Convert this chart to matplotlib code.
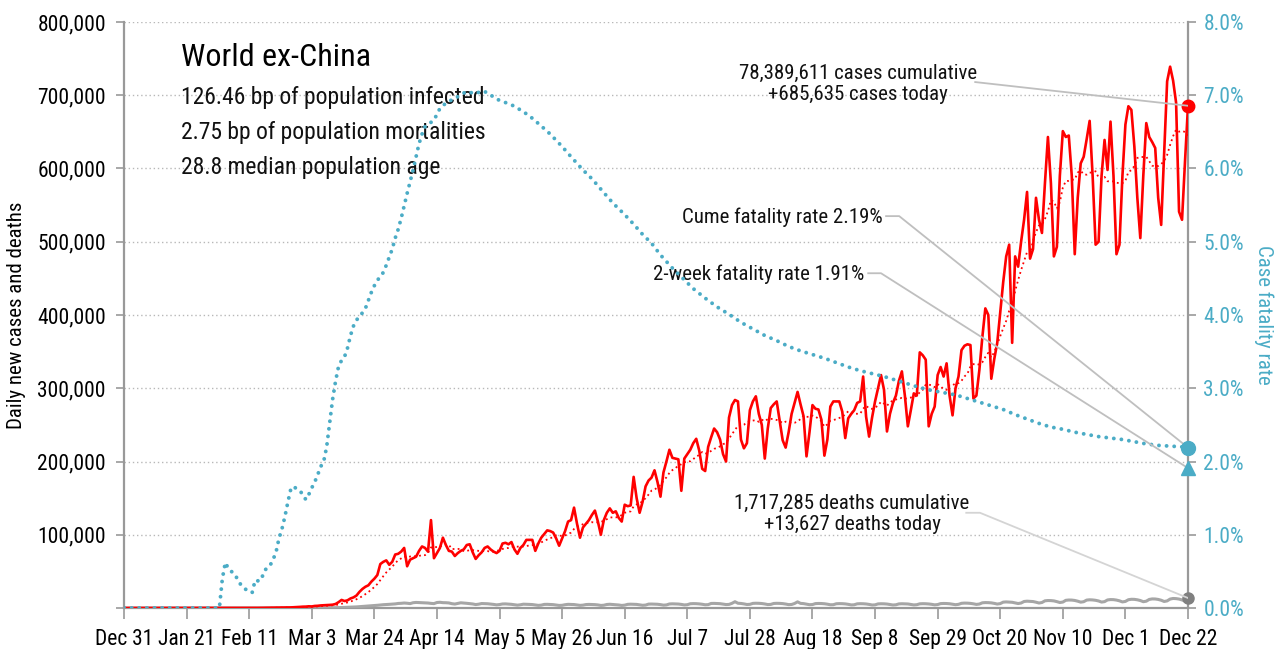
import matplotlib
matplotlib.use("Agg")
import matplotlib.pyplot as plt  # noqa: E402
import numpy as np  # noqa: E402
import pandas as pd  # noqa: E402
from matplotlib import font_manager  # noqa: E402
from matplotlib.ticker import FuncFormatter  # noqa: E402

_names = {f.name for f in font_manager.fontManager.ttflist}
FONT = next((n for n in ("Liberation Sans Narrow", "Roboto Condensed", "DejaVu Sans")
             if n in _names), "DejaVu Sans")
plt.rcParams["font.family"] = FONT

_RED, _BLUE, _GRAY, _AX = "#ff0000", "#4bacc6", "#a6a6a6", "#999999"

# ---- data: day 0 = Dec 31 2019, daily up to Dec 22 2020 (day 357) ----
cases = [
    0, 0, 0, 0, 0, 0, 0,
    0, 0, 0, 0, 0, 0, 0,
    0, 0, 0, 1, 1, 2, 4,
    6, 8, 10, 15, 20, 25, 30,
    35, 40, 45, 50, 50, 55, 60,
    60, 70, 75, 80, 85, 90, 95,
    100, 110, 120, 130, 180, 250, 300,
    350, 400, 500, 550, 600, 650, 700,
    800, 1000, 1200, 1500, 1800, 1900, 2300,
    2100, 2800, 3000, 3500, 3700, 4000, 4200,
    4500, 5500, 8000, 11000, 9500, 10500, 13000,
    14500, 17000, 22000, 26000, 29000, 31000, 36000,
    40000, 45000, 60000, 63000, 65000, 59000, 63000,
    73000, 74000, 77000, 82000, 57000, 66000, 68000,
    70000, 78000, 84000, 82000, 77000, 120000, 68000,
    75000, 82000, 96000, 86000, 78000, 77000, 71000,
    75000, 78000, 80000, 86000, 87000, 76000, 67000,
    72000, 76000, 82000, 84000, 80000, 77000, 75000,
    78000, 88000, 89000, 87000, 90000, 80000, 74000,
    82000, 86000, 93000, 93000, 93000, 78000, 88000,
    96000, 101000, 106000, 105000, 103000, 95000, 85000,
    95000, 105000, 118000, 120000, 137000, 115000, 96000,
    110000, 115000, 120000, 127000, 133000, 118000, 100000,
    120000, 130000, 136000, 130000, 132000, 123000, 118000,
    141000, 139000, 140000, 179000, 150000, 130000, 145000,
    166000, 174000, 178000, 188000, 172000, 152000, 185000,
    200000, 216000, 205000, 204000, 203000, 160000, 204000,
    210000, 216000, 225000, 231000, 215000, 190000, 187000,
    220000, 233000, 245000, 240000, 230000, 210000, 200000,
    260000, 277000, 284000, 282000, 230000, 218000, 225000,
    270000, 282000, 289000, 265000, 250000, 204000, 245000,
    273000, 278000, 282000, 255000, 229000, 219000, 240000,
    265000, 280000, 295000, 278000, 262000, 207000, 240000,
    277000, 272000, 271000, 257000, 208000, 230000, 275000,
    282000, 282000, 282000, 268000, 232000, 259000, 265000,
    270000, 280000, 282000, 316000, 261000, 234000, 260000,
    282000, 300000, 318000, 298000, 241000, 265000, 280000,
    290000, 310000, 323000, 290000, 248000, 270000, 293000,
    290000, 349000, 345000, 339000, 248000, 265000, 275000,
    318000, 329000, 316000, 334000, 290000, 263000, 300000,
    316000, 352000, 358000, 360000, 359000, 286000, 290000,
    325000, 370000, 409000, 400000, 313000, 340000, 362000,
    404000, 445000, 480000, 496000, 362000, 480000, 466000,
    500000, 530000, 568000, 477000, 490000, 560000, 530000,
    512000, 580000, 643000, 580000, 480000, 493000, 590000,
    651000, 643000, 645000, 590000, 483000, 560000, 607000,
    616000, 640000, 665000, 590000, 496000, 500000, 590000,
    639000, 598000, 664000, 590000, 483000, 496000, 590000,
    660000, 685000, 680000, 630000, 560000, 505000, 590000,
    662000, 643000, 636000, 628000, 560000, 523000, 620000,
    719000, 739000, 720000, 690000, 541000, 530000, 610000,
    685635,
]

deaths = [
    0, 0, 0, 0, 0, 0, 0,
    0, 0, 0, 0, 0, 0, 0,
    0, 0, 0, 0, 0, 0, 0,
    0, 0, 0, 0, 0, 0, 0,
    0, 0, 0, 0, 1, 0, 0,
    0, 0, 0, 0, 0, 0, 0,
    0, 0, 1, 1, 2, 3, 4,
    6, 8, 12, 10, 15, 18, 22,
    30, 35, 40, 45, 50, 55, 70,
    80, 100, 120, 160, 200, 240, 300,
    350, 420, 500, 650, 800, 900, 1100,
    1300, 1500, 1800, 2000, 2300, 2600, 3000,
    3300, 3700, 4100, 4500, 4700, 5000, 5300,
    5600, 6200, 6400, 6800, 6500, 6000, 7200,
    7600, 7400, 7300, 7000, 6800, 6300, 6000,
    7500, 7800, 7300, 7200, 6900, 5900, 5400,
    6200, 7100, 6800, 6400, 6000, 5500, 4700,
    5200, 6100, 6000, 5800, 5400, 4900, 4300,
    4700, 5500, 5600, 5300, 5000, 4400, 3900,
    4400, 5200, 5100, 4900, 4700, 4200, 3600,
    3900, 4900, 5000, 4800, 4600, 4100, 3500,
    3700, 4500, 5000, 4900, 4700, 4200, 3600,
    3900, 4700, 4900, 4800, 4600, 4200, 3500,
    3800, 4800, 5100, 4800, 4600, 4100, 3500,
    3900, 5000, 5200, 5100, 4900, 4300, 3700,
    4000, 5300, 5400, 5300, 5100, 4600, 3900,
    4200, 5500, 5700, 5600, 5400, 4900, 4200,
    4500, 5800, 6000, 5900, 5600, 5100, 4400,
    4600, 6200, 6300, 6100, 5900, 5300, 4700,
    4900, 6400, 8600, 6500, 6200, 5600, 4800,
    5000, 6300, 6500, 6400, 6100, 5500, 4700,
    4900, 6200, 6400, 6300, 6000, 5400, 4600,
    4800, 6200, 8400, 6300, 6000, 5300, 4500,
    4700, 6000, 6200, 6100, 5800, 5200, 4400,
    4500, 5800, 6000, 5900, 5600, 5000, 4200,
    4400, 5700, 5900, 5800, 5500, 4900, 4100,
    4300, 5600, 5800, 5700, 5400, 4800, 4100,
    4400, 5600, 5800, 5700, 5500, 4900, 4200,
    4500, 5700, 5900, 5800, 5500, 5000, 4300,
    4700, 6000, 6200, 6100, 5800, 5200, 4500,
    5000, 6400, 6700, 6600, 6300, 5700, 4900,
    5400, 7100, 7400, 7300, 7000, 6300, 5400,
    6000, 8000, 8300, 8100, 7800, 7000, 6100,
    6800, 8900, 9300, 9100, 8800, 7900, 6800,
    7500, 9800, 10200, 10100, 9700, 8700, 7500,
    8100, 10500, 10900, 10800, 10300, 9300, 8000,
    8600, 10800, 11200, 11000, 10500, 9600, 8100,
    8700, 11000, 11500, 11400, 10800, 9800, 8300,
    9000, 11300, 11900, 11800, 11200, 10200, 8600,
    9300, 11700, 12400, 12300, 11700, 10600, 8900,
    9700, 12200, 13000, 12800, 12200, 11000, 9300,
    13627,
]

# cumulative case fatality rate (%)
cfr_day = [0, 10, 20, 32, 33, 34, 35, 36, 37, 38, 39, 40, 41, 42, 43, 44, 45, 46, 47, 48,
           49, 50, 51, 52, 53, 54, 55, 56, 57, 58, 59, 60, 61, 62, 63, 64, 65, 66, 67, 68,
           69, 70, 71, 72, 73, 74, 75, 76, 77, 78, 79, 80, 81, 82, 83, 84, 85, 86, 87, 88,
           89, 90, 91, 92, 93, 94, 95, 96, 97, 98, 99, 100, 101, 102, 103, 104, 105, 106,
           107, 108, 109, 110, 111, 112, 113, 114, 115, 116, 117, 118, 119, 120, 121, 122,
           123, 124, 125, 126, 130, 133, 136, 140, 143, 147, 150, 154, 157, 161, 164, 168,
           171, 174, 177, 180, 184, 187, 191, 195, 199, 203, 207, 211, 215, 219, 223, 227,
           231, 235, 239, 243, 247, 251, 255, 259, 263, 267, 271, 275, 279, 283, 287, 291,
           295, 299, 303, 307, 311, 315, 319, 323, 327, 331, 335, 339, 343, 347, 351, 355, 357]
cfr_pct = [0, 0, 0, 0, 0.40, 0.62, 0.54, 0.50, 0.47, 0.40, 0.33, 0.28, 0.25, 0.23, 0.21,
           0.38, 0.37, 0.38, 0.50, 0.55, 0.58, 0.66, 0.76, 0.95, 1.08, 1.25, 1.45, 1.63,
           1.66, 1.62, 1.60, 1.55, 1.48, 1.55, 1.64, 1.72, 1.82, 1.93, 2.00, 2.20, 2.53,
           2.85, 3.10, 3.30, 3.38, 3.43, 3.55, 3.72, 3.85, 3.93, 3.98, 4.03, 4.09, 4.20,
           4.31, 4.40, 4.47, 4.53, 4.58, 4.68, 4.79, 4.90, 5.05, 5.17, 5.32, 5.49, 5.66,
           5.82, 5.98, 6.16, 6.34, 6.47, 6.57, 6.61, 6.63, 6.66, 6.74, 6.82, 6.86, 6.89,
           6.91, 6.94, 6.96, 6.98, 7.01, 7.03, 7.05, 7.04, 7.03, 7.02, 7.04, 7.06, 7.05,
           7.03, 7.00, 6.98, 6.95, 6.93, 6.87, 6.80, 6.72, 6.58, 6.47, 6.30, 6.16, 5.98,
           5.86, 5.67, 5.53, 5.37, 5.24, 5.10, 4.98, 4.82, 4.64, 4.52, 4.36, 4.23, 4.11,
           4.01, 3.90, 3.81, 3.72, 3.65, 3.57, 3.51, 3.46, 3.41, 3.35, 3.29, 3.24, 3.20,
           3.16, 3.11, 3.06, 3.01, 2.97, 2.94, 2.91, 2.86, 2.81, 2.76, 2.71, 2.64, 2.58,
           2.52, 2.47, 2.44, 2.40, 2.37, 2.34, 2.32, 2.30, 2.27, 2.24, 2.22, 2.21, 2.20, 2.19]
cfr_2week = 1.91

tick_days = list(range(0, 358, 21))
tick_labels = ["Dec 31", "Jan 21", "Feb 11", "Mar 3", "Mar 24", "Apr 14", "May 5", "May 26",
               "Jun 16", "Jul 7", "Jul 28", "Aug 18", "Sep 8", "Sep 29", "Oct 20", "Nov 10",
               "Dec 1", "Dec 22"]

days = np.arange(len(cases))
avg7 = pd.Series(cases).rolling(7, min_periods=1).mean()
last = days[-1]

fig = plt.figure(figsize=(12.82, 6.49), dpi=100)
ax = fig.add_axes([124 / 1282, 41 / 649, 1064 / 1282, 586 / 649])
ax.set_xlim(0, last)
ax.set_ylim(0, 800000)
ax.set_yticks(range(0, 800001, 100000))
ax.yaxis.set_major_formatter(FuncFormatter(lambda v, p: "" if v == 0 else f"{int(v):,}"))
ax.set_xticks(tick_days)
ax.set_xticklabels(tick_labels)
ax.yaxis.grid(True, linestyle=(0, (1, 2)), color="#b8b8b8", lw=1)
ax.set_axisbelow(True)
for s in ("left", "right", "bottom"):
    ax.spines[s].set_color(_AX); ax.spines[s].set_linewidth(1.6)
ax.spines["top"].set_visible(False)
ax.tick_params(axis="y", direction="out", length=6, width=1.2, color=_AX, labelsize=15.5, pad=7)
ax.tick_params(axis="x", direction="out", length=8, width=1.2, color=_AX, labelsize=15.5, pad=7)
ax.set_ylabel("Daily new cases and deaths", fontsize=15)
ax.yaxis.set_label_coords(-0.092, 0.5)

ax.plot(days, deaths, color=_GRAY, lw=2.2, zorder=3)
ax.plot(days, avg7, color=_RED, lw=1.3, ls=(0, (1, 1.8)), zorder=4)
ax.plot(days, cases, color=_RED, lw=1.9, zorder=5)
ax.plot(last, cases[-1], "o", color=_RED, ms=9, clip_on=False, zorder=8)
ax.plot(last, deaths[-1], "o", color="#808080", ms=8, clip_on=False, zorder=8)

ax2 = ax.twinx()
ax2.set_ylim(0, 8)
ax2.set_yticks(range(0, 9))
ax2.yaxis.set_major_formatter(FuncFormatter(lambda v, p: f"{v:.1f}%"))
ax2.tick_params(axis="y", direction="out", length=6, width=1.2, color=_AX,
                labelsize=15.5, labelcolor=_BLUE, pad=5)
for s in ax2.spines.values():
    s.set_visible(False)
ax2.set_ylabel("Case fatality rate", fontsize=15, color=_BLUE, rotation=270)
ax2.yaxis.set_label_coords(1.08, 0.5)
ax2.plot(cfr_day, cfr_pct, color=_BLUE, lw=2.8, ls=(0, (0.01, 1.95)),
         dash_capstyle="round", zorder=6)
ax2.plot(last, cfr_pct[-1], "o", color=_BLUE, ms=10, clip_on=False, zorder=8)
ax2.plot(last, cfr_2week, "^", color=_BLUE, ms=10, clip_on=False, zorder=8)

# callout lines from the labels to the end-of-series markers
lc = "#bfbfbf"
ax2.plot([285.6, last], [7.18, cases[-1] / 1e5], color=lc, lw=1.3, zorder=7)
ax2.plot([255.7, 260.1, last], [5.35, 5.35, cfr_pct[-1]], color=lc, lw=1.3, zorder=7)
ax2.plot([249.7, 254.0, last], [4.57, 4.57, cfr_2week], color=lc, lw=1.3, zorder=7)
ax2.plot([282.6, 287.2, last], [1.30, 1.30, deaths[-1] / 1e5], color="#d4d4d4", lw=1.3, zorder=7)

tc = "#111111"
ax2.text(246.3, 7.15, f"{78389611:,} cases cumulative\n+{cases[-1]:,} cases today",
         ha="center", va="center", fontsize=15, color=tc, linespacing=1.15)
ax2.text(254.4, 5.34, f"Cume fatality rate {cfr_pct[-1]:.2f}%", ha="right", va="center",
         fontsize=15, color=tc)
ax2.text(248.3, 4.55, f"2-week fatality rate {cfr_2week:.2f}%", ha="right", va="center",
         fontsize=15, color=tc)
ax2.text(244.3, 1.28, f"{1717285:,} deaths cumulative\n+{deaths[-1]:,} deaths today",
         ha="center", va="center", fontsize=15, color=tc, linespacing=1.15)

ax.text(0.0536, 0.940, "World ex-China", transform=ax.transAxes, fontsize=23, va="center",
        color="black")
for i, line in enumerate(["126.46 bp of population infected",
                          "2.75 bp of population mortalities",
                          "28.8 median population age"]):
    ax.text(0.0536, 0.872 - i * 0.0605, line, transform=ax.transAxes, fontsize=17,
            va="center", color=tc)

fig.savefig("out.png", dpi=100)
